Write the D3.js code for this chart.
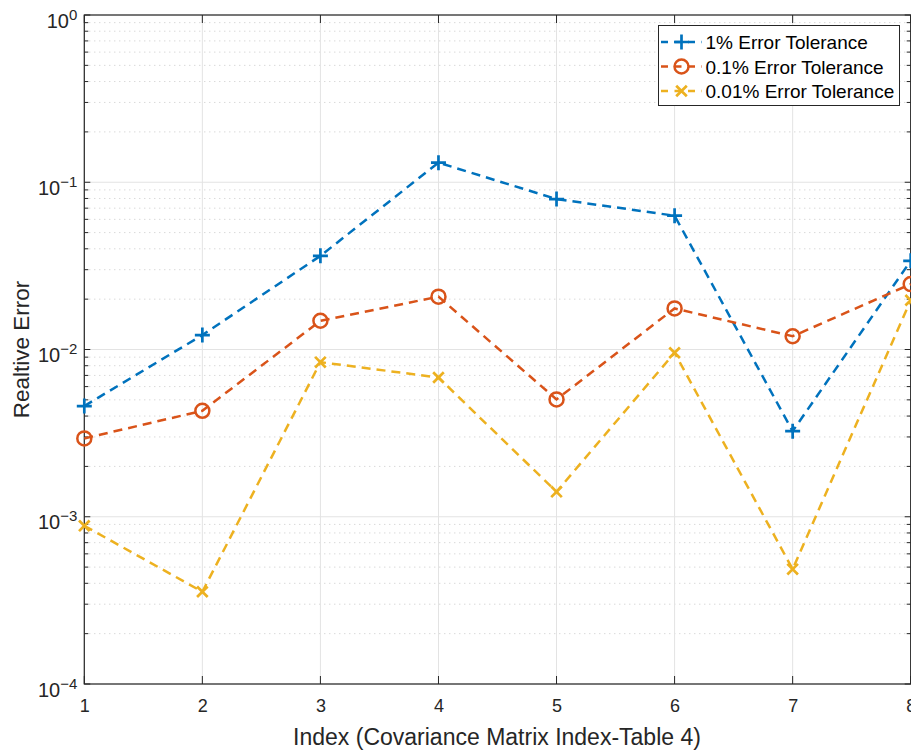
<!DOCTYPE html>
<html>
<head>
<meta charset="utf-8">
<script src="https://cdn.jsdelivr.net/npm/d3@7"></script>
<style>
  html, body { margin: 0; padding: 0; background: #fff; }
  svg { display: block; font-family: "Liberation Sans", Arial, Helvetica, sans-serif; }
</style>
</head>
<body>
<svg id="chart" width="911" height="752"></svg>
<script>
// Relative error per covariance matrix index, for three error tolerances
const indices = [1, 2, 3, 4, 5, 6, 7, 8];
const err1pct = [0.00459, 0.0122, 0.0363, 0.131, 0.0793, 0.0631, 0.00325, 0.0339];
const err01pct = [0.00294, 0.0043, 0.01485, 0.0207, 0.00503, 0.0176, 0.0120, 0.0246];
const err001pct = [0.000883, 0.000356, 0.0084, 0.0068, 0.00141, 0.00956, 0.000486, 0.0197];
const seriesNames = ["1% Error Tolerance", "0.1% Error Tolerance", "0.01% Error Tolerance"];
const seriesColors = ["#0072BD", "#D95319", "#EDB120"];
const seriesMarkers = ["plus", "circle", "cross"];
const yTickExponents = [0, -1, -2, -3, -4];
const xLabel = "Index (Covariance Matrix Index-Table 4)";
const yLabel = "Realtive Error";

const series = [err1pct, err01pct, err001pct].map((vals, i) => ({
  name: seriesNames[i], color: seriesColors[i], marker: seriesMarkers[i],
  points: indices.map((x, j) => ({ x, y: vals[j] }))
}));

const svg = d3.select("#chart");
const plotLeft = 84.3, plotRight = 910.7, plotTop = 15, plotBottom = 684;
const axisColor = "#262626";
const fontFam = "'Liberation Sans', Arial, sans-serif";

const x = d3.scaleLinear().domain([1, 8]).range([plotLeft, plotRight]);
const y = d3.scaleLog().domain([1e-4, 1]).range([plotBottom, plotTop]);

const g = svg.append("g");

// minor grid (dotted) for log decades
const minorVals = [];
for (let e = -4; e < 0; e++) for (let m = 2; m <= 9; m++) minorVals.push(m * Math.pow(10, e));
g.append("g").selectAll("line").data(minorVals).join("line")
  .attr("x1", plotLeft).attr("x2", plotRight)
  .attr("y1", d => y(d)).attr("y2", d => y(d))
  .attr("stroke", "#c8c8c8").attr("stroke-width", 1)
  .attr("stroke-dasharray", "1,4");

// major grid
const majorVals = yTickExponents.map(e => Math.pow(10, e));
g.append("g").selectAll("line").data(majorVals).join("line")
  .attr("x1", plotLeft).attr("x2", plotRight)
  .attr("y1", d => y(d)).attr("y2", d => y(d))
  .attr("stroke", "#e3e3e3").attr("stroke-width", 1);
g.append("g").selectAll("line").data(indices).join("line")
  .attr("x1", d => x(d)).attr("x2", d => x(d))
  .attr("y1", plotTop).attr("y2", plotBottom)
  .attr("stroke", "#e3e3e3").attr("stroke-width", 1);

// axes via d3 axis generators
const xAxisB = d3.axisBottom(x).tickValues(indices).tickSize(0).tickPadding(15).tickFormat(d3.format("d"));
const xg = g.append("g").attr("transform", `translate(0,${plotBottom})`).call(xAxisB);
xg.attr("font-size", null).attr("font-family", null);
xg.select(".domain").remove();
xg.selectAll("text").attr("font-size", 18).attr("fill", axisColor).attr("font-family", fontFam);

const yAxisL = d3.axisLeft(y).tickValues(majorVals).tickSize(0).tickPadding(8).tickFormat(() => "");
const yg = g.append("g").attr("transform", `translate(${plotLeft},0)`).call(yAxisL);
yg.attr("font-size", null).attr("font-family", null);
yg.select(".domain").remove();
yg.selectAll(".tick").each(function (d) {
  const t = d3.select(this).select("text")
    .attr("text-anchor", "end").attr("x", -7).attr("dy", null).attr("y", 12)
    .attr("font-size", 20).attr("fill", axisColor).attr("font-family", fontFam);
  const e = Math.round(Math.log10(d));
  t.append("tspan").text("10");
  t.append("tspan").attr("dy", -8).attr("font-size", 15)
    .text(e < 0 ? "\u2212" + Math.abs(e) : String(e));
});

// tick marks (inward), both sides and top/bottom
const tickG = g.append("g").attr("stroke", axisColor).attr("stroke-width", 1);
majorVals.forEach(v => {
  tickG.append("line").attr("x1", plotLeft).attr("x2", plotLeft + 6).attr("y1", y(v)).attr("y2", y(v));
  tickG.append("line").attr("x1", plotRight).attr("x2", plotRight - 6).attr("y1", y(v)).attr("y2", y(v));
});
minorVals.forEach(v => {
  tickG.append("line").attr("x1", plotLeft).attr("x2", plotLeft + 4).attr("y1", y(v)).attr("y2", y(v));
  tickG.append("line").attr("x1", plotRight).attr("x2", plotRight - 4).attr("y1", y(v)).attr("y2", y(v));
});
indices.forEach(v => {
  tickG.append("line").attr("x1", x(v)).attr("x2", x(v)).attr("y1", plotBottom).attr("y2", plotBottom - 8);
  tickG.append("line").attr("x1", x(v)).attr("x2", x(v)).attr("y1", plotTop).attr("y2", plotTop + 8);
});

// axes box
g.append("rect").attr("x", plotLeft).attr("y", plotTop)
  .attr("width", plotRight - plotLeft).attr("height", plotBottom - plotTop)
  .attr("fill", "none").attr("stroke", axisColor).attr("stroke-width", 1.2);

// axis labels
svg.append("text").attr("x", 497).attr("y", 745)
  .attr("text-anchor", "middle").attr("font-size", 23).attr("fill", axisColor)
  .text(xLabel);
svg.append("text").attr("transform", `translate(29,${(plotTop + plotBottom) / 2}) rotate(-90)`)
  .attr("text-anchor", "middle").attr("font-size", 22.5).attr("fill", axisColor)
  .text(yLabel);

// marker drawing
function drawMarker(sel, type, color, cx, cy) {
  if (type === "plus") {
    const s = 7.5;
    sel.append("path").attr("d", `M${cx - s},${cy}H${cx + s}M${cx},${cy - s}V${cy + s}`)
      .attr("stroke", color).attr("stroke-width", 2.7).attr("fill", "none");
  } else if (type === "circle") {
    sel.append("circle").attr("cx", cx).attr("cy", cy).attr("r", 7)
      .attr("stroke", color).attr("stroke-width", 2.5).attr("fill", "none");
  } else {
    const s = 5.3;
    sel.append("path").attr("d", `M${cx - s},${cy - s}L${cx + s},${cy + s}M${cx - s},${cy + s}L${cx + s},${cy - s}`)
      .attr("stroke", color).attr("stroke-width", 2.7).attr("fill", "none");
  }
}

// series lines and markers
const line = d3.line().x(d => x(d.x)).y(d => y(d.y));
const plotG = svg.append("g");
series.forEach(s => {
  plotG.append("path").datum(s.points).attr("d", line)
    .attr("fill", "none").attr("stroke", s.color).attr("stroke-width", 2.5)
    .attr("stroke-dasharray", "9,6");
});
series.forEach(s => {
  const mg = plotG.append("g");
  s.points.forEach(p => drawMarker(mg, s.marker, s.color, x(p.x), y(p.y)));
});

// legend
const lg = svg.append("g");
lg.append("rect").attr("x", 658.5).attr("y", 25.5).attr("width", 241).attr("height", 80)
  .attr("fill", "#fff").attr("stroke", "#262626").attr("stroke-width", 1);
series.forEach((s, i) => {
  const cy = 42 + i * 24.5;
  lg.append("line").attr("x1", 661).attr("x2", 702).attr("y1", cy).attr("y2", cy)
    .attr("stroke", s.color).attr("stroke-width", 2.5).attr("stroke-dasharray", "7,6.5");
  drawMarker(lg, s.marker, s.color, 681.5, cy);
  lg.append("text").attr("x", 705.5).attr("y", cy + 7).attr("font-size", 19)
    .attr("fill", "#000").text(s.name);
});
</script>
</body>
</html>
